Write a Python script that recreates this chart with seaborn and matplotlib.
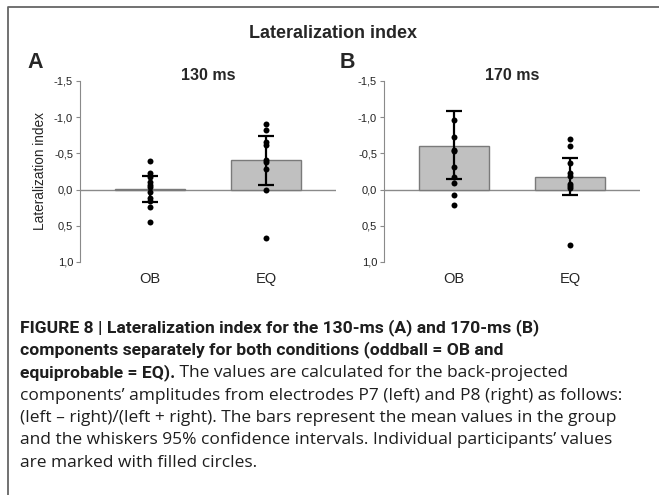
import numpy as np
import pandas as pd
import matplotlib
matplotlib.use("Agg")
import matplotlib.pyplot as plt
import seaborn as sns
from matplotlib.lines import Line2D

# --------------------------------------------------------------------
# Data
# --------------------------------------------------------------------

conditions = ["OB", "EQ"]

# 130 ms
a_means = [-0.01, -0.41]
a_ci_top = [-0.19, -0.75]
a_ci_bottom = [0.17, -0.08]
a_ob = [-0.39, -0.23, -0.18, -0.11, -0.07, -0.03, 0.04, 0.12, 0.16, 0.24, 0.45]
a_eq = [-0.90, -0.83, -0.66, -0.62, -0.41, -0.38, -0.28, 0.01, 0.67]

# 170 ms
b_means = [-0.60, -0.18]
b_ci_top = [-1.06, -0.44]
b_ci_bottom = [-0.12, 0.07]
b_ob = [-0.96, -0.72, -0.55, -0.53, -0.31, -0.18, -0.09, 0.08, 0.21]
b_eq = [-0.70, -0.60, -0.37, -0.23, -0.19, -0.08, -0.05, -0.02, 0.77]

y_ticks = [-1.5, -1.0, -0.5, 0.0, 0.5, 1.0]
y_ticklabels = ["-1,5", "-1,0", "-0,5", "0,0", "0,5", "1,0"]

caption_lines = [
    [("FIGURE 8 | Lateralization index for the 130-ms (A) and 170-ms (B)", "bold")],
    [("components separately for both conditions (oddball = OB and", "bold")],
    [("equiprobable = EQ).", "bold"),
     (" The values are calculated for the back-projected", "normal")],
    [("components\u2019 amplitudes from electrodes P7 (left) and P8 (right) as follows:", "normal")],
    [("(left \u2013 right)/(left + right). The bars represent the mean values in the group", "normal")],
    [("and the whiskers 95% confidence intervals. Individual participants\u2019 values", "normal")],
    [("are marked with filled circles.", "normal")],
]

# --------------------------------------------------------------------
# Figure
# --------------------------------------------------------------------

sns.set_style("white")
plt.rcParams["font.family"] = ["Liberation Sans", "DejaVu Sans"]

W, H = 659, 495
fig = plt.figure(figsize=(W / 100, H / 100), dpi=100)

AX_GREY = "#8a8a8a"


def panel(rect, means, ci_top, ci_bottom, ob, eq, title, ylabel):
    ax = fig.add_axes(rect)
    ax.axhline(0, color=AX_GREY, lw=1.0, zorder=0)
    sns.barplot(x=conditions, y=means, order=conditions, color="#c0c0c0",
                edgecolor="#7a7a7a", linewidth=1.0, width=0.6, saturation=1,
                errorbar=None, ax=ax, zorder=2)
    means = np.array(means)
    lower = np.abs(np.array(ci_bottom) - means)
    upper = np.abs(means - np.array(ci_top))
    ax.errorbar(x=[0, 1], y=means, yerr=[lower, upper],
                fmt="none", ecolor="black", elinewidth=1.6, capsize=6,
                capthick=1.6, zorder=3)
    pts = pd.DataFrame({
        "cond": ["OB"] * len(ob) + ["EQ"] * len(eq),
        "val": ob + eq,
    })
    sns.stripplot(data=pts, x="cond", y="val", order=conditions, jitter=False,
                  color="black", size=4.3, ax=ax, zorder=4)

    ax.set_xlim(-0.6, 1.6)
    ax.set_ylim(1.0, -1.5)
    ax.set_yticks(y_ticks)
    ax.set_yticklabels(y_ticklabels, fontsize=8, color="#222222")
    ax.tick_params(axis="y", length=3, width=0.8, color=AX_GREY, pad=2, left=True)
    ax.tick_params(axis="x", length=0, pad=7, labelsize=10.5)
    for s in ["top", "right", "bottom"]:
        ax.spines[s].set_visible(False)
    ax.spines["left"].set_color(AX_GREY)
    ax.spines["left"].set_linewidth(0.8)
    ax.set_xlabel("")
    ax.set_ylabel(ylabel, fontsize=9.8, labelpad=5)
    ax.set_title(title, fontsize=11.5, fontweight="bold", pad=1)
    return ax


ax_h = 181 / H
ax_b = 1 - 262 / H
panel([80 / W, ax_b, 256 / W, ax_h], a_means, a_ci_top, a_ci_bottom,
      a_ob, a_eq, "130 ms", "Lateralization index")
panel([384 / W, ax_b, 256 / W, ax_h], b_means, b_ci_top, b_ci_bottom,
      b_ob, b_eq, "170 ms", "")

fig.text(333 / W, 1 - 33 / H, "Lateralization index", ha="center", va="center",
         fontsize=13, fontweight="bold")
fig.text(35 / W, 1 - 62 / H, "A", ha="center", va="center", fontsize=15.5, fontweight="bold")
fig.text(347 / W, 1 - 62 / H, "B", ha="center", va="center", fontsize=15.5, fontweight="bold")

# outer frame (top and left only)
frame_x = [8 / W, 8 / W, 1.0]
frame_y = [0.0, 1 - 7 / H, 1 - 7 / H]
fig.add_artist(Line2D(frame_x, frame_y, transform=fig.transFigure,
                      color="#666666", lw=1.3))

# caption: bold parts in Roboto, plain parts in Open Sans
cap_ax = fig.add_axes([0, 0, 1, 1])
cap_ax.set_axis_off()
cap_style = {
    "bold": dict(fontsize=12.6, fontweight="bold", family=["Roboto", "DejaVu Sans"]),
    "normal": dict(fontsize=12.5, fontweight="normal", family=["Open Sans", "DejaVu Sans"]),
}
y0 = 332
for i, line in enumerate(caption_lines):
    yb = 1 - (y0 + i * 22.5) / H
    prev = None
    for txt, weight in line:
        if prev is None:
            prev = cap_ax.text(20 / W, yb, txt, transform=fig.transFigure,
                               ha="left", va="baseline", color="#1e1e1e",
                               **cap_style[weight])
        else:
            prev = cap_ax.annotate(txt, xy=(1, 0), xycoords=prev, ha="left",
                                   va="bottom", color="#1e1e1e",
                                   **cap_style[weight])

fig.savefig("out.png", dpi=100)
